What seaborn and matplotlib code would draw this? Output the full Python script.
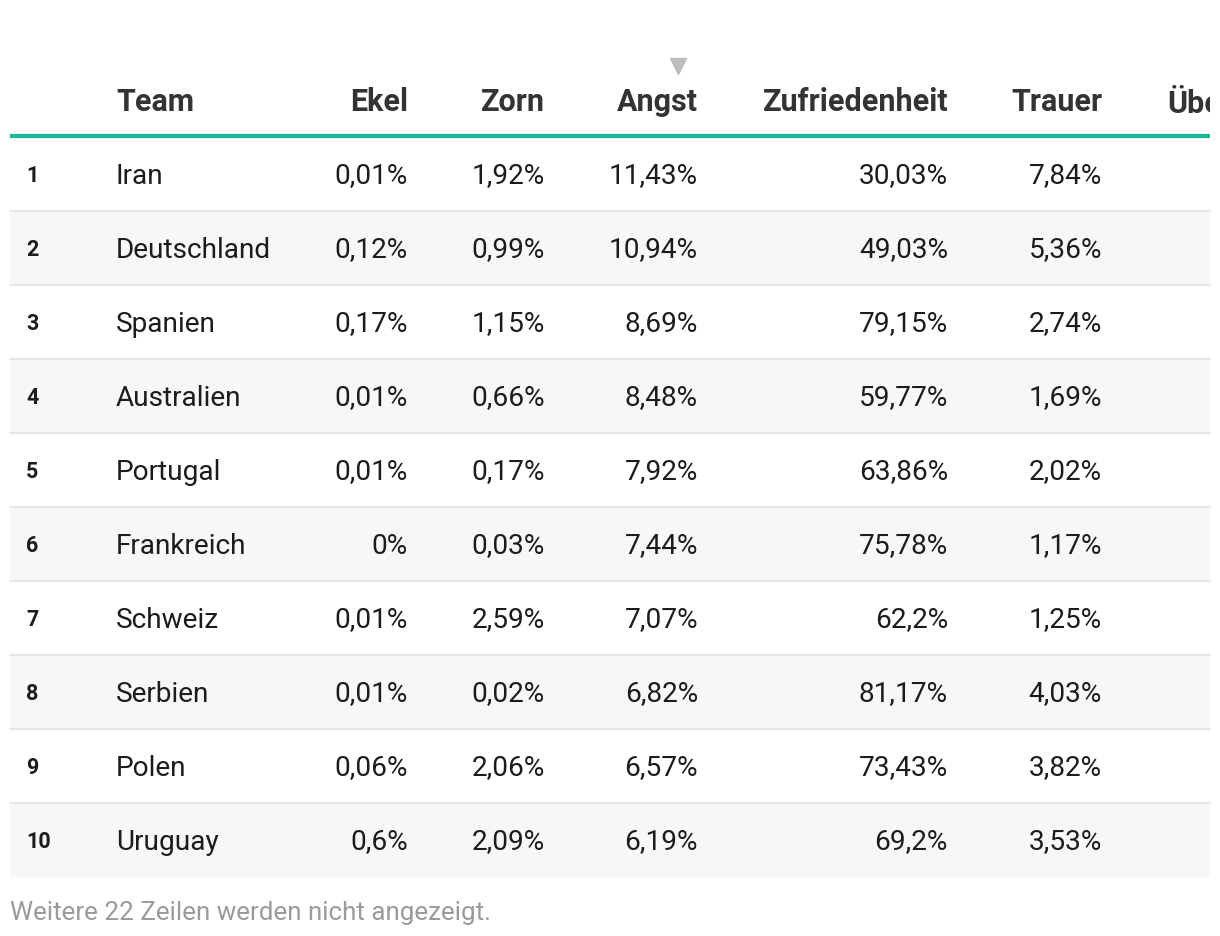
import matplotlib
matplotlib.use("Agg")
import matplotlib.pyplot as plt
from matplotlib.patches import Rectangle
from matplotlib.transforms import Bbox, TransformedBbox
import seaborn as sns
import pandas as pd

# table data
ranks = [1, 2, 3, 4, 5, 6, 7, 8, 9, 10]
teams = ["Iran", "Deutschland", "Spanien", "Australien", "Portugal",
         "Frankreich", "Schweiz", "Serbien", "Polen", "Uruguay"]
ekel = [0.01, 0.12, 0.17, 0.01, 0.01, 0, 0.01, 0.01, 0.06, 0.6]
zorn = [1.92, 0.99, 1.15, 0.66, 0.17, 0.03, 2.59, 0.02, 2.06, 2.09]
angst = [11.43, 10.94, 8.69, 8.48, 7.92, 7.44, 7.07, 6.82, 6.57, 6.19]
zufriedenheit = [30.03, 49.03, 79.15, 59.77, 63.86, 75.78, 62.2, 81.17, 73.43, 69.2]
trauer = [7.84, 5.36, 2.74, 1.69, 2.02, 1.17, 1.25, 4.03, 3.82, 3.53]
value_cols = ["Ekel", "Zorn", "Angst", "Zufriedenheit", "Trauer"]
footer = "Weitere 22 Zeilen werden nicht angezeigt."

df = pd.DataFrame({"Rang": ranks, "Team": teams, "Ekel": ekel, "Zorn": zorn,
                   "Angst": angst, "Zufriedenheit": zufriedenheit, "Trauer": trauer})


def fmt(v):
    return f"{v:g}".replace(".", ",") + "%"


sns.set_theme(style="white")
plt.rcParams["font.family"] = ["Roboto", "DejaVu Sans"]

fig = plt.figure(figsize=(12.2, 9.36), dpi=100)
ax = fig.add_axes([0, 0, 1, 1])
ax.set_xlim(0, 1220)
ax.set_ylim(936, 0)
ax.axis("off")

# layout (pixels)
left, right = 10, 1210
head_y = 102
line_y = 136
row_h = 74
first_top = 137
col_right = {"Ekel": 408, "Zorn": 545, "Angst": 698, "Zufriedenheit": 948, "Trauer": 1102}

head_kw = dict(fontsize=22, fontweight="bold", color="#333333", va="center")
body_kw = dict(fontsize=20.2, color="#1c1c1c", va="center")

# header
ax.text(116, head_y, "Team", ha="left", **head_kw)
for c in value_cols:
    ax.text(col_right[c], head_y, c, ha="right", **head_kw)
# last column is cut off by the table edge
t = ax.text(1167, head_y, "Überraschung", ha="left", **head_kw)
t.set_clip_on(True)
t.set_clip_box(TransformedBbox(Bbox([[left, 0], [right, 936]]), ax.transData))
# sort marker above Angst
ax.plot([678], [66], marker="v", markersize=11, color="#bdbdbd", linestyle="none")

ax.plot([left, right], [line_y, line_y], color="#17b897", lw=3, solid_capstyle="butt")

# rows
for i, row in df.iterrows():
    top = first_top + row_h * i
    yc = top + row_h / 2 + 2
    if i % 2 == 1:
        ax.add_patch(Rectangle((left, top), right - left, row_h, color="#f7f7f7", lw=0, zorder=0))
    if i < len(df) - 1:
        ax.plot([left, right], [top + row_h, top + row_h], color="#e4e4e4", lw=1.3, zorder=1)
    ax.text(26, yc, str(row["Rang"]), ha="left", va="center", fontsize=15.5,
            fontweight="bold", color="#1c1c1c")
    ax.text(116, yc, row["Team"], ha="left", **body_kw)
    for c in value_cols:
        ax.text(col_right[c], yc, fmt(row[c]), ha="right", **body_kw)

ax.text(10, 913, footer, ha="left", va="center", fontsize=18.7, color="#9a9a9a")

fig.savefig("out.png", dpi=100)
